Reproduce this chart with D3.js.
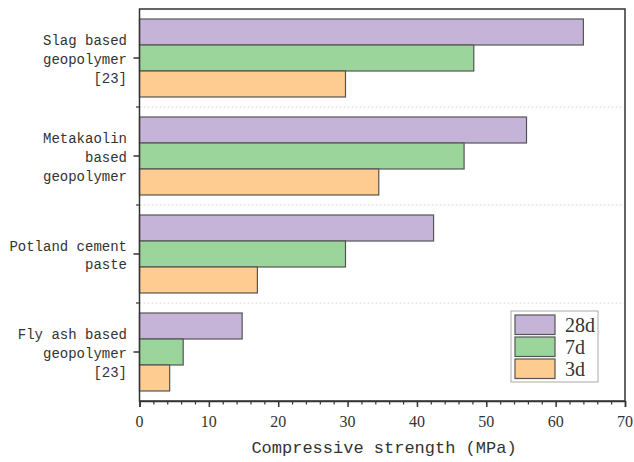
<!DOCTYPE html>
<html>
<head>
<meta charset="utf-8">
<script src="https://cdn.jsdelivr.net/npm/d3@7"></script>
<style>
  body { margin: 0; background: #fff; }
  .cat-label { font-family: "Liberation Mono", monospace; font-size: 14px; fill: #333; }
  .tick-label { font-family: "Liberation Serif", serif; font-size: 16px; fill: #333; }
  .axis-title { font-family: "Liberation Mono", monospace; font-size: 17px; fill: #333; }
  .legend-text { font-family: "Liberation Serif", serif; font-size: 20px; fill: #333; }
</style>
</head>
<body>
<div id="chart"></div>
<script>
// categories, top to bottom
var categories = ["Slag based geopolymer [23]", "Metakaolin based geopolymer",
	"Potland cement paste", "Fly ash based geopolymer [23]"];
var categoryLines = [
	["Slag based", "geopolymer", "[23]"],
	["Metakaolin", "based", "geopolymer"],
	["Potland cement", "paste"],
	["Fly ash based", "geopolymer", "[23]"]
];
var seriesNames = ["28d", "7d", "3d"];
var values28d = [64.0, 55.8, 42.4, 14.8];
var values7d = [48.2, 46.8, 29.7, 6.3];
var values3d = [29.7, 34.5, 17.0, 4.35];
var xTicks = [0, 10, 20, 30, 40, 50, 60, 70];
var xLabel = "Compressive strength (MPa)";

var seriesValues = {"28d": values28d, "7d": values7d, "3d": values3d};
var colors = {"28d": "#c6b4d8", "7d": "#9bd59c", "3d": "#fecb90"};

var outerWidth = 634, outerHeight = 462;
var margin = {top: 9, right: 9, bottom: 61, left: 139.5};
var width = outerWidth - margin.left - margin.right;
var height = outerHeight - margin.top - margin.bottom;

var svg = d3.select("#chart").append("svg")
	.attr("width", outerWidth)
	.attr("height", outerHeight);

var g = svg.append("g")
	.attr("transform", "translate(" + margin.left + "," + margin.top + ")");

var xScale = d3.scaleLinear().domain([0, 70]).range([0, width]);
var yScale = d3.scaleBand().domain(categories).range([0, height]);
var ySub = d3.scaleBand().domain(seriesNames)
	.range([0, yScale.bandwidth()])
	.paddingOuter(0.385);

// dotted separators between groups
g.selectAll(".sep")
	.data(categories.slice(1))
	.join("line")
	.attr("class", "sep")
	.attr("x1", 0).attr("x2", width)
	.attr("y1", d => yScale(d)).attr("y2", d => yScale(d))
	.attr("stroke", "#d8d8d8")
	.attr("stroke-width", 1)
	.attr("stroke-dasharray", "2,2");

// bars
var groups = g.selectAll(".group")
	.data(categories)
	.join("g")
	.attr("class", "group")
	.attr("transform", d => "translate(0," + yScale(d) + ")");

groups.selectAll("rect")
	.data((d, i) => seriesNames.map(s => ({s: s, v: seriesValues[s][i]})))
	.join("rect")
	.attr("x", 0)
	.attr("y", d => ySub(d.s))
	.attr("width", d => xScale(d.v))
	.attr("height", ySub.bandwidth())
	.attr("fill", d => colors[d.s])
	.attr("stroke", "#555")
	.attr("stroke-width", 1.2);

// frame
g.append("rect")
	.attr("width", width)
	.attr("height", height)
	.attr("fill", "none")
	.attr("stroke", "#333")
	.attr("stroke-width", 1.5);

// x axis, major + minor ticks
var xAxis = d3.axisBottom(xScale).tickValues(xTicks).tickSize(6).tickFormat("");
g.append("g")
	.attr("transform", "translate(0," + height + ")")
	.call(xAxis)
	.call(a => a.select(".domain").attr("stroke", "#333").attr("stroke-width", 1.5))
	.call(a => a.selectAll(".tick line").attr("stroke", "#333").attr("stroke-width", 1.5));

g.append("g")
	.attr("transform", "translate(0," + height + ")")
	.call(d3.axisBottom(xScale).tickValues(d3.range(2, 70, 2).filter(v => v % 10 != 0))
		.tickSize(3.5).tickFormat(""))
	.call(a => a.select(".domain").remove())
	.call(a => a.selectAll(".tick line").attr("stroke", "#333").attr("stroke-width", 1.2));

g.selectAll(".tick-label")
	.data(xTicks)
	.join("text")
	.attr("class", "tick-label")
	.attr("x", d => xScale(d))
	.attr("y", height + 26)
	.attr("text-anchor", "middle")
	.text(d => d);

// y axis ticks: major at band centre, minor at band edges
g.selectAll(".ymajor")
	.data(categories)
	.join("line")
	.attr("class", "ymajor")
	.attr("x1", -6).attr("x2", 0)
	.attr("y1", d => yScale(d) + yScale.bandwidth() / 2)
	.attr("y2", d => yScale(d) + yScale.bandwidth() / 2)
	.attr("stroke", "#333").attr("stroke-width", 1.5);

g.selectAll(".yminor")
	.data(categories.slice(1))
	.join("line")
	.attr("class", "yminor")
	.attr("x1", -3.5).attr("x2", 0)
	.attr("y1", d => yScale(d)).attr("y2", d => yScale(d))
	.attr("stroke", "#333").attr("stroke-width", 1.2);

// category labels
var lineH = 18.7;
g.selectAll(".cat-label")
	.data(categories)
	.join("text")
	.attr("class", "cat-label")
	.attr("text-anchor", "end")
	.each(function(d, i) {
		var lines = categoryLines[i];
		var cy = yScale(d) + yScale.bandwidth() / 2 + 1;
		var t = d3.select(this);
		lines.forEach(function(l, j) {
			t.append("tspan")
				.attr("x", -12.5)
				.attr("y", cy + (j - (lines.length - 1) / 2) * lineH)
				.attr("dy", "0.35em")
				.text(l);
		});
	});

// axis title
g.append("text")
	.attr("class", "axis-title")
	.attr("x", (250 + 518) / 2 - margin.left)
	.attr("y", height + 52)
	.attr("text-anchor", "middle")
	.text(xLabel);

// legend
var legend = svg.append("g")
	.attr("transform", "translate(511,311)");
legend.append("rect")
	.attr("width", 87).attr("height", 71)
	.attr("fill", "#fff")
	.attr("stroke", "#aaa").attr("stroke-width", 1);
var items = legend.selectAll(".item")
	.data(seriesNames)
	.join("g")
	.attr("class", "item")
	.attr("transform", (d, i) => "translate(4," + (4 + i * 22) + ")");
items.append("rect")
	.attr("width", 40).attr("height", 19.5)
	.attr("fill", d => colors[d])
	.attr("stroke", "#555").attr("stroke-width", 1.2);
items.append("text")
	.attr("class", "legend-text")
	.attr("x", 50)
	.attr("y", 17)
	.text(d => d);
</script>
</body>
</html>
